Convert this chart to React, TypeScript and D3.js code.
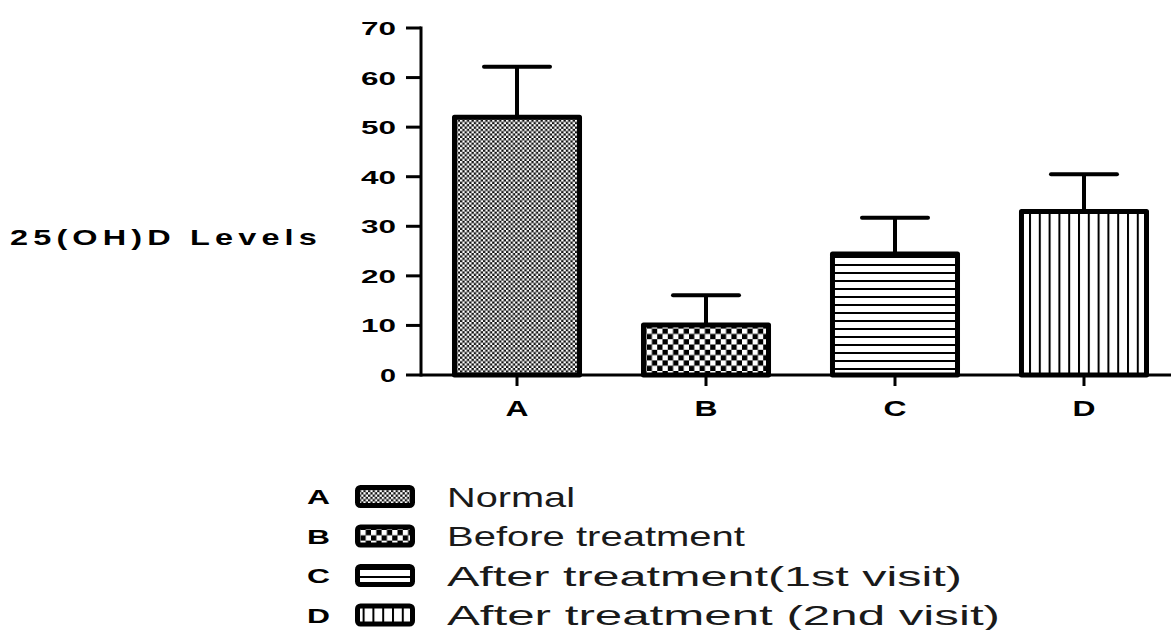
import React, { useRef, useEffect } from 'react';
import * as d3 from 'd3';

// values
const groups = ['A', 'B', 'C', 'D'];
const means = [52, 10.1, 24.4, 33.0];
const errors = [10.2, 6.0, 7.3, 7.5];
const yTicks = [0, 10, 20, 30, 40, 50, 60, 70];
const legendLabels = ['Normal', 'Before treatment', 'After treatment(1st visit)', 'After treatment (2nd visit)'];
const legendWidths = [128, 298, 515, 553];
const patternIds = ['patA', 'patB', 'patC', 'patD'];

const W = 1171, H = 630;

const App = () => {
    const ref = useRef(null);

    var xScale = d3.scaleBand()
        .domain(groups)
        .range([422.7, 1178.3])
        .paddingInner(0.312)
        .paddingOuter(0.155);

    var yScale = d3.scaleLinear()
        .domain([0, 70])
        .range([375, 28]);

    useEffect(() => {
        const svg = d3.select(ref.current);
        svg.selectAll('*').remove();

        const defs = svg.append('defs');
        // A: fine checker
        const pa = defs.append('pattern').attr('id', 'patA').attr('patternUnits', 'userSpaceOnUse')
            .attr('width', 4.6).attr('height', 4.6);
        pa.append('rect').attr('width', 4.6).attr('height', 4.6).attr('fill', '#111');
        pa.append('rect').attr('width', 2.3).attr('height', 2.3).attr('fill', '#fff');
        pa.append('rect').attr('x', 2.3).attr('y', 2.3).attr('width', 2.3).attr('height', 2.3).attr('fill', '#fff');
        // B: coarse checker
        const pb = defs.append('pattern').attr('id', 'patB').attr('patternUnits', 'userSpaceOnUse')
            .attr('width', 10.6).attr('height', 10.6);
        pb.append('rect').attr('width', 10.6).attr('height', 10.6).attr('fill', '#000');
        pb.append('rect').attr('width', 5.3).attr('height', 5.3).attr('fill', '#fff');
        pb.append('rect').attr('x', 5.3).attr('y', 5.3).attr('width', 5.3).attr('height', 5.3).attr('fill', '#fff');
        // C: horizontal lines
        const pc = defs.append('pattern').attr('id', 'patC').attr('patternUnits', 'userSpaceOnUse')
            .attr('width', 8).attr('height', 8);
        pc.append('rect').attr('width', 8).attr('height', 8).attr('fill', '#fff');
        pc.append('rect').attr('y', 0).attr('width', 8).attr('height', 2).attr('fill', '#000');
        // D: vertical lines
        const pd = defs.append('pattern').attr('id', 'patD').attr('patternUnits', 'userSpaceOnUse')
            .attr('width', 9.8).attr('height', 10);
        pd.append('rect').attr('width', 9.8).attr('height', 10).attr('fill', '#fff');
        pd.append('rect').attr('x', 0).attr('width', 2).attr('height', 10).attr('fill', '#000');

        const font = 'Liberation Sans, Arial, sans-serif';

        // error bars (upward only)
        const eb = svg.append('g').attr('stroke', '#000').attr('stroke-width', 4);
        groups.forEach((g, i) => {
            const cx = xScale(g) + xScale.bandwidth() / 2;
            eb.append('line').attr('x1', cx).attr('x2', cx)
                .attr('y1', yScale(means[i])).attr('y2', yScale(means[i] + errors[i]));
            eb.append('line').attr('x1', cx - 33).attr('x2', cx + 33)
                .attr('y1', yScale(means[i] + errors[i])).attr('y2', yScale(means[i] + errors[i]))
                .attr('stroke-linecap', 'round');
        });

        // bars
        svg.append('g').selectAll('rect')
            .data(groups)
            .enter()
            .append('rect')
            .attr('x', d => xScale(d) + 2.5)
            .attr('y', (d, i) => yScale(means[i]))
            .attr('width', xScale.bandwidth() - 5)
            .attr('height', (d, i) => yScale(0) - yScale(means[i]))
            .attr('fill', (d, i) => 'url(#' + patternIds[i] + ')')
            .attr('stroke', '#000')
            .attr('stroke-width', 5)
            .attr('stroke-linejoin', 'round');

        // axes
        const ax = svg.append('g').attr('stroke', '#000').attr('stroke-width', 3);
        ax.append('line').attr('x1', 421).attr('x2', 421).attr('y1', yScale(70) - 1.5).attr('y2', yScale(0) + 1.5);
        ax.append('line').attr('x1', 421).attr('x2', W).attr('y1', yScale(0)).attr('y2', yScale(0));
        yTicks.forEach(t => {
            ax.append('line').attr('x1', 406).attr('x2', 421).attr('y1', yScale(t)).attr('y2', yScale(t));
        });
        groups.forEach(g => {
            const cx = xScale(g) + xScale.bandwidth() / 2;
            ax.append('line').attr('x1', cx).attr('x2', cx).attr('y1', yScale(0)).attr('y2', yScale(0) + 11);
        });

        // tick labels
        svg.append('g').selectAll('text')
            .data(yTicks)
            .enter()
            .append('text')
            .attr('x', 396)
            .attr('y', d => yScale(d) + 7)
            .attr('text-anchor', 'end')
            .attr('font-family', font)
            .attr('font-weight', 'bold')
            .attr('font-size', 19)
            .attr('textLength', d => d < 10 ? 16 : 35)
            .attr('lengthAdjust', 'spacingAndGlyphs')
            .text(d => d);

        svg.append('g').selectAll('text')
            .data(groups)
            .enter()
            .append('text')
            .attr('x', d => xScale(d) + xScale.bandwidth() / 2 - 11.5)
            .attr('y', 416)
            .attr('font-family', font)
            .attr('font-weight', 'bold')
            .attr('font-size', 22)
            .attr('textLength', 23)
            .attr('lengthAdjust', 'spacingAndGlyphs')
            .text(d => d);

        // y label
        svg.append('text')
            .attr('x', 10)
            .attr('y', 245)
            .attr('font-family', font)
            .attr('font-weight', 'bold')
            .attr('font-size', 22)
            .attr('textLength', 312)
            .attr('lengthAdjust', 'spacingAndGlyphs')
            .style('letter-spacing', '3.5px')
            .text('25(OH)D Levels');

        // legend
        const lg = svg.append('g');
        groups.forEach((g, i) => {
            const cy = 496.5 + i * 39.5;
            lg.append('text')
                .attr('x', 307).attr('y', cy + 7.5)
                .attr('font-family', font).attr('font-weight', 'bold').attr('font-size', 21)
                .attr('textLength', 23).attr('lengthAdjust', 'spacingAndGlyphs')
                .text(g);
            lg.append('rect')
                .attr('x', 357.5).attr('y', cy - 9)
                .attr('width', 55).attr('height', 18)
                .attr('rx', 3)
                .attr('fill', 'url(#' + patternIds[i] + ')')
                .attr('stroke', '#000').attr('stroke-width', 5);
            lg.append('text')
                .attr('x', 447).attr('y', cy + 10)
                .attr('font-family', font).attr('font-size', 28)
                .attr('fill', '#1a1a1a')
                .attr('textLength', legendWidths[i]).attr('lengthAdjust', 'spacingAndGlyphs')
                .text(legendLabels[i]);
        });
    }, []);

    return (
        <svg ref={ref} width={W} height={H} viewBox={'0 0 ' + W + ' ' + H}
            style={{ position: 'absolute', left: 0, top: 0, background: '#fff' }} />
    );
};

export default App;
